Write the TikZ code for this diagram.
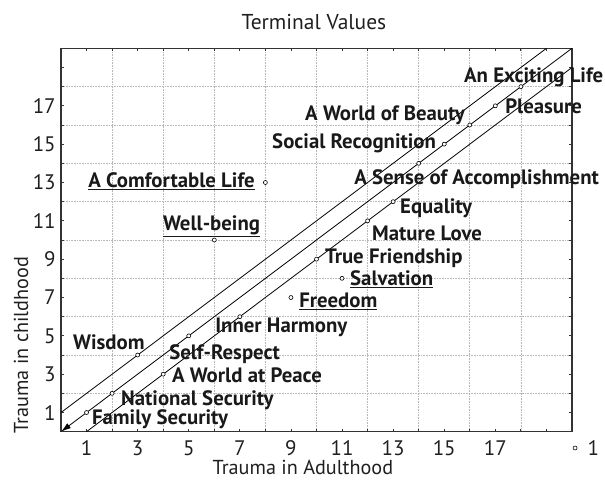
\documentclass[tikz,border=0pt]{standalone}
\usepackage{fontspec}
\setmainfont{PT Sans}
\usetikzlibrary{arrows.meta}
\tikzset{
  pt/.style={circle,draw,inner sep=0pt,minimum size=4pt,line width=.6pt},
  lbl/.style={anchor=base west,inner sep=0pt,font=\fontsize{20.8}{21}\selectfont\bfseries,text=black!90},
  gridline/.style={densely dotted,black!28,line width=.6pt},
  axtext/.style={inner sep=0pt,font=\fontsize{21}{21}\selectfont,text=black!88},
  axtitle/.style={inner sep=0pt,font=\fontsize{20.2}{20.2}\selectfont,text=black!88}
}
\begin{document}
\begin{tikzpicture}[x=25.55pt,y=19.17pt,>={Latex[length=10pt,width=6pt]}]
\useasboundingbox (-2.387,-2.624) rectangle (21.292,22.52);
% grid and ticks
\foreach \i in {2,4,...,18}{
  \draw[gridline] (\i,0)--(\i,20);
  \draw[gridline] (0,\i)--(20,\i);}
\foreach \i in {1,...,19}{
  \draw[black!80,line width=.8pt] (\i,0)--++(0,.16) (\i,20)--++(0,-.16);
  \draw[black!80,line width=.8pt] (0,\i)--++(.12,0) (20,\i)--++(-.12,0);}
\foreach \i in {1,3,...,17}{
  \node[axtext,anchor=base] (xt\i) at (\i,-1.22){\i};
  \node[axtext,anchor=east] (yt\i) at (-.2,\i){\i};}
\draw[line width=1.2pt,black!80] (0,0) rectangle (20,20);
\node[axtext,font=\fontsize{21.5}{21.5}\selectfont] (title) at (9.90,21.37){Terminal Values};
\node[axtitle,anchor=base] (xlab) at (9.47,-2.22){Trauma in Adulthood};
\node[axtitle,rotate=90] (ylab) at (-1.566,4.52){Trauma in childhood};
% diagonals
\coordinate (o) at (0,0);
\coordinate (d) at (20,20);
\coordinate (u0) at (0,1);
\coordinate (u1) at (19,20);
\coordinate (l0) at (1,0);
\coordinate (l1) at (20,19);
\draw[line width=.8pt,<-] (o)--(d);
\draw[line width=.8pt] (u0)--(u1);
\draw[line width=.8pt] (l0)--(l1);
% values
\foreach \x/\y/\n in {1/1/fs,2/2/ns,3/4/wi,4/3/wp,5/5/sr,7/6/ih,9/7/fr,10/9/tf,11/8/sa,
  12/11/ml,13/12/eq,14/14/ac,15/15/so,16/16/wb,17/17/pl,18/18/el,6/10/wl,8/13/cl}
  \node[pt,fill=white] (\n) at (\x,\y){};
\node[lbl] (el l) at (15.77,18.24){An Exciting Life};
\node[lbl] (pl l) at (17.38,16.62){Pleasure};
\node[lbl] (wb l) at (9.55,16.21){A World of Beauty};
\node[lbl] (so l) at (8.26,14.75){Social Recognition};
\node[lbl] (ac l) at (11.47,12.92){A Sense of Accomplishment};
\node[lbl] (cl l) at (1.06,12.76){\underline{A Comfortable Life}};
\node[lbl] (wl l) at (3.99,10.52){\underline{Well-being}};
\node[lbl] (eq l) at (13.27,11.36){Equality};
\node[lbl] (ml l) at (12.17,10.0){Mature Love};
\node[lbl] (tf l) at (10.33,8.75){True Friendship};
\node[lbl] (sa l) at (11.31,7.65){\underline{Salvation}};
\node[lbl] (fr l) at (9.32,6.50){\underline{Freedom}};
\node[lbl] (ih l) at (6.03,5.20){Inner Harmony};
\node[lbl] (wi l) at (0.47,4.31){Wisdom};
\node[lbl] (sr l) at (4.23,3.79){Self-Respect};
\node[lbl] (wp l) at (4.34,2.59){A World at Peace};
\node[lbl] (ns l) at (2.35,1.39){National Security};
\node[lbl] (fs l) at (1.21,0.40){Family Security};
% legend
\node[pt] (key) at (20.12,-.85){};
\node[axtext,anchor=west] (key l) at (20.6,-.85){1};
\end{tikzpicture}
\end{document}
